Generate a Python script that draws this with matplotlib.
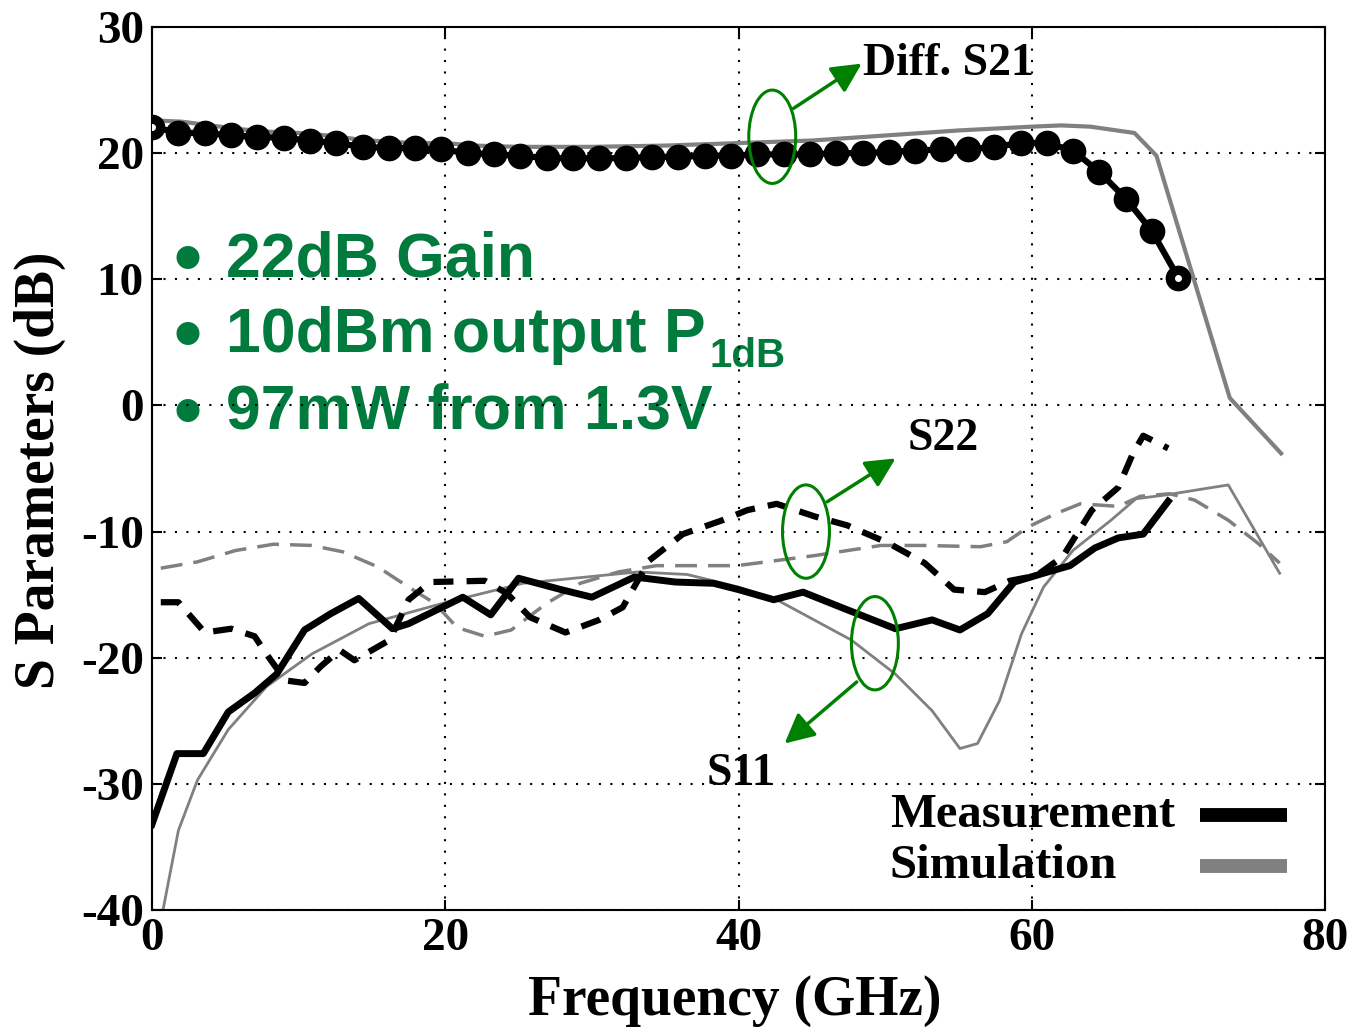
import numpy as np
import matplotlib.pyplot as plt
from matplotlib.patches import Ellipse
from matplotlib.lines import Line2D

plt.rcParams['axes.unicode_minus'] = False

serif = 'Liberation Serif'
sans = 'Liberation Sans'
green = '#008000'
text_green = '#007A3D'
gray = '#808080'

# measured differential S21 (40 sweep points, 0-70 GHz)
f_s21_meas = np.linspace(0, 70, 40)
s21_meas = [22.1, 21.6, 21.6, 21.4, 21.3, 21.2, 21.0, 20.8, 20.5, 20.4,
            20.4, 20.3, 20.0, 19.9, 19.8, 19.6, 19.6, 19.6, 19.6, 19.7,
            19.7, 19.8, 19.8, 19.9, 19.9, 19.9, 20.0, 20.0, 20.1, 20.2,
            20.3, 20.3, 20.5, 20.8, 20.8, 20.2, 18.5, 16.4, 13.8, 10.1]

# simulated S21
f_s21_sim = [0, 2, 4, 6, 8, 10, 12, 14, 16, 18, 20, 22, 25, 30, 35, 40, 45,
             50, 55, 60, 62, 64, 67, 68.5, 73.5, 77]
s21_sim = [22.6, 22.5, 22.2, 21.9, 21.7, 21.6, 21.4, 21.1, 20.9, 20.8, 20.8,
           20.6, 20.5, 20.5, 20.6, 20.8, 21.0, 21.4, 21.8, 22.1, 22.2, 22.1,
           21.6, 19.8, 0.6, -3.8]

# measured S11
f_s11_meas = [0.0, 1.7, 3.5, 5.2, 7.0, 8.5, 10.4, 12.2, 14.1, 16.4, 17.5,
              21.2, 23.1, 25.0, 27.9, 30.0, 32.9, 35.7, 38.3, 40.0, 42.4,
              44.4, 47.2, 50.7, 53.2, 55.1, 57.0, 58.8, 60.8, 62.6, 64.3,
              65.9, 67.6, 69.3]
s11_meas = [-33.2, -27.6, -27.6, -24.3, -22.8, -21.3, -17.8, -16.5, -15.3,
            -17.7, -17.3, -15.2, -16.6, -13.7, -14.6, -15.2, -13.6, -14.0,
            -14.1, -14.6, -15.4, -14.8, -16.1, -17.7, -17.0, -17.8, -16.5,
            -14.0, -13.3, -12.7, -11.3, -10.5, -10.2, -7.6]

# simulated S11
f_s11_sim = [0.75, 1.8, 3.1, 5.2, 7.8, 10.9, 14.8, 20.1, 25.3, 33.1, 36.5,
             40.0, 42.6, 47.7, 50.7, 53.2, 55.1, 56.3, 57.8, 59.3, 60.8, 62.8,
             65.4, 67.1, 69.1, 73.4, 76.9]
s11_sim = [-40.0, -33.7, -29.7, -25.7, -22.3, -19.7, -17.3, -15.6, -14.1,
           -13.2, -13.4, -14.4, -15.4, -18.6, -21.3, -24.2, -27.2, -26.8,
           -23.4, -18.1, -14.4, -11.5, -9.1, -7.4, -7.1, -6.3, -13.3]

# measured S22
f_s22_meas = [0.6, 1.8, 3.6, 5.4, 7.0, 7.8, 9.1, 10.4, 11.5, 12.8, 13.8,
              16.2, 17.5, 19.0, 22.7, 24.2, 25.8, 28.2, 30.5, 32.1, 33.9,
              36.2, 38.9, 40.6, 42.6, 45.2, 47.4, 50.2, 52.7, 54.7, 56.8,
              58.5, 60.3, 62.1, 64.1, 65.9, 66.9, 67.6, 69.3]
s22_meas = [-15.6, -15.6, -18.0, -17.7, -18.3, -19.7, -21.8, -22.0, -20.7,
            -19.4, -20.2, -18.6, -15.4, -14.0, -13.9, -14.9, -16.8, -18.0,
            -17.0, -16.0, -12.3, -10.2, -9.1, -8.3, -7.8, -8.8, -9.5, -10.9,
            -12.5, -14.6, -14.8, -13.9, -13.5, -12.0, -8.3, -6.5, -3.8, -2.4,
            -3.4]

# simulated S22
f_s22_sim = [0.6, 3.1, 5.7, 8.3, 10.9, 13.0, 15.4, 17.5, 19.3, 20.8, 22.7,
             24.5, 26.9, 29.2, 31.8, 34.4, 39.9, 45.2, 49.7, 52.7, 56.5, 58.3,
             59.8, 61.6, 63.3, 65.9, 67.4, 69.4, 71.1, 73.4, 75.4, 76.9]
s22_sim = [-12.9, -12.4, -11.5, -11.0, -11.1, -11.6, -12.8, -14.4, -15.7,
           -17.6, -18.3, -17.8, -15.7, -14.1, -13.2, -12.7, -12.7, -11.9,
           -11.1, -11.1, -11.2, -10.8, -9.6, -8.6, -7.8, -8.0, -7.2, -7.0,
           -7.5, -9.1, -10.9, -12.5]

highlights = ['22dB Gain', '10dBm output P', '97mW from 1.3V']
highlight_y = [10.25, 4.25, -1.83]

fig = plt.figure(figsize=(13.51, 10.27), dpi=100)
ax = fig.add_axes([0.1125, 0.1139, 0.8683, 0.8598])
ax.set_axisbelow('line')

# simulation (gray) under measurement (black)
ax.plot(f_s21_sim, s21_sim, color=gray, lw=3, zorder=2)
ax.plot(f_s11_sim, s11_sim, color=gray, lw=2, zorder=2)
ax.plot(f_s22_sim, s22_sim, color=gray, lw=2.5, dashes=(6.3, 3.2), zorder=2)

ax.plot(f_s11_meas, s11_meas, color='black', lw=5, zorder=3)
ax.plot(f_s22_meas, s22_meas, color='black', lw=4.5, dashes=(3.2, 2.1), zorder=3)
ax.plot(f_s21_meas, s21_meas, color='black', lw=4.5, marker='o', ms=17.5,
        zorder=3)
ax.plot(f_s21_meas[[0, -1]], [s21_meas[0], s21_meas[-1]], 'o', color='white',
        ms=4, zorder=4)

ax.set_xlim(0, 80)
ax.set_ylim(-40, 30)
ax.set_xticks(range(0, 81, 20))
ax.set_yticks(range(-40, 31, 10))
ax.grid(True, color='black', lw=1.5, linestyle=(0, (1, 4.5)))
ax.tick_params(direction='in', length=7, width=1.5, top=True, right=True,
               pad=6)
for lab in ax.get_xticklabels() + ax.get_yticklabels():
    lab.set_fontfamily(serif)
    lab.set_fontweight('bold')
    lab.set_fontsize(34)
for sp in ax.spines.values():
    sp.set_linewidth(1.5)

ax.set_xlabel('Frequency (GHz)', fontfamily=serif, fontweight='bold',
              fontsize=40)
ax.set_ylabel('S Parameters (dB)', fontfamily=serif, fontweight='bold',
              fontsize=40)
ax.xaxis.set_label_coords(0.497, -0.0736)
ax.yaxis.set_label_coords(-0.0733, 0.498)

# highlight bullets
green_font = dict(color=text_green, fontfamily=sans, fontweight='bold',
                  va='baseline', zorder=1)
lines_txt = []
for txt, y in zip(highlights, highlight_y):
    ax.text(1.45, y - 0.65, '•', fontsize=58, **green_font)
    lines_txt.append(ax.text(5.05, y, txt, fontsize=45, **green_font))
ax.annotate('1dB', xy=(1, 0), xycoords=lines_txt[1], xytext=(3, -1.5),
            textcoords='offset points', fontsize=29, **green_font)

# curve call-outs: ellipse, arrow, name
callouts = [
    ('Diff. S21', (42.3, 21.3), (43.75, 23.55), (48.4, 27.1), (48.5, 26.19)),
    ('S22', (44.6, -10.0), (46.04, -7.64), (50.71, -4.2), (51.5, -3.54)),
    ('S11', (49.3, -18.85), (48.06, -21.92), (43.14, -26.8), (37.84, -30.1)),
]
for name, centre, tail, tip, label_xy in callouts:
    ax.add_patch(Ellipse(centre, 3.2, 7.4, fill=False, edgecolor=green,
                         lw=2.2, zorder=5))
    ax.annotate('', xy=tip, xytext=tail,
                arrowprops=dict(arrowstyle='-|>,head_length=0.9,head_width=0.45',
                                color=green, lw=2.5, mutation_scale=20,
                                shrinkA=0, shrinkB=0), zorder=5)
    ax.text(*label_xy, name, fontfamily=serif, fontweight='bold', fontsize=33,
            va='baseline', zorder=1)

# key: label on the left, line sample on the right
key_labels = ['Measurement', 'Simulation']
key_styles = [dict(color='black', lw=10), dict(color=gray, lw=10)]
key_y = [0.1076, 0.0498]
for lbl, style, y in zip(key_labels, key_styles, key_y):
    ax.text(0.629, y, lbl, transform=ax.transAxes, fontfamily=serif,
            fontweight='bold', fontsize=35, va='center', zorder=1)
    ax.add_line(Line2D([0.8934, 0.9676], [y, y], transform=ax.transAxes,
                       solid_capstyle='butt', zorder=4, **style))

fig.savefig('out.png', dpi=100)
